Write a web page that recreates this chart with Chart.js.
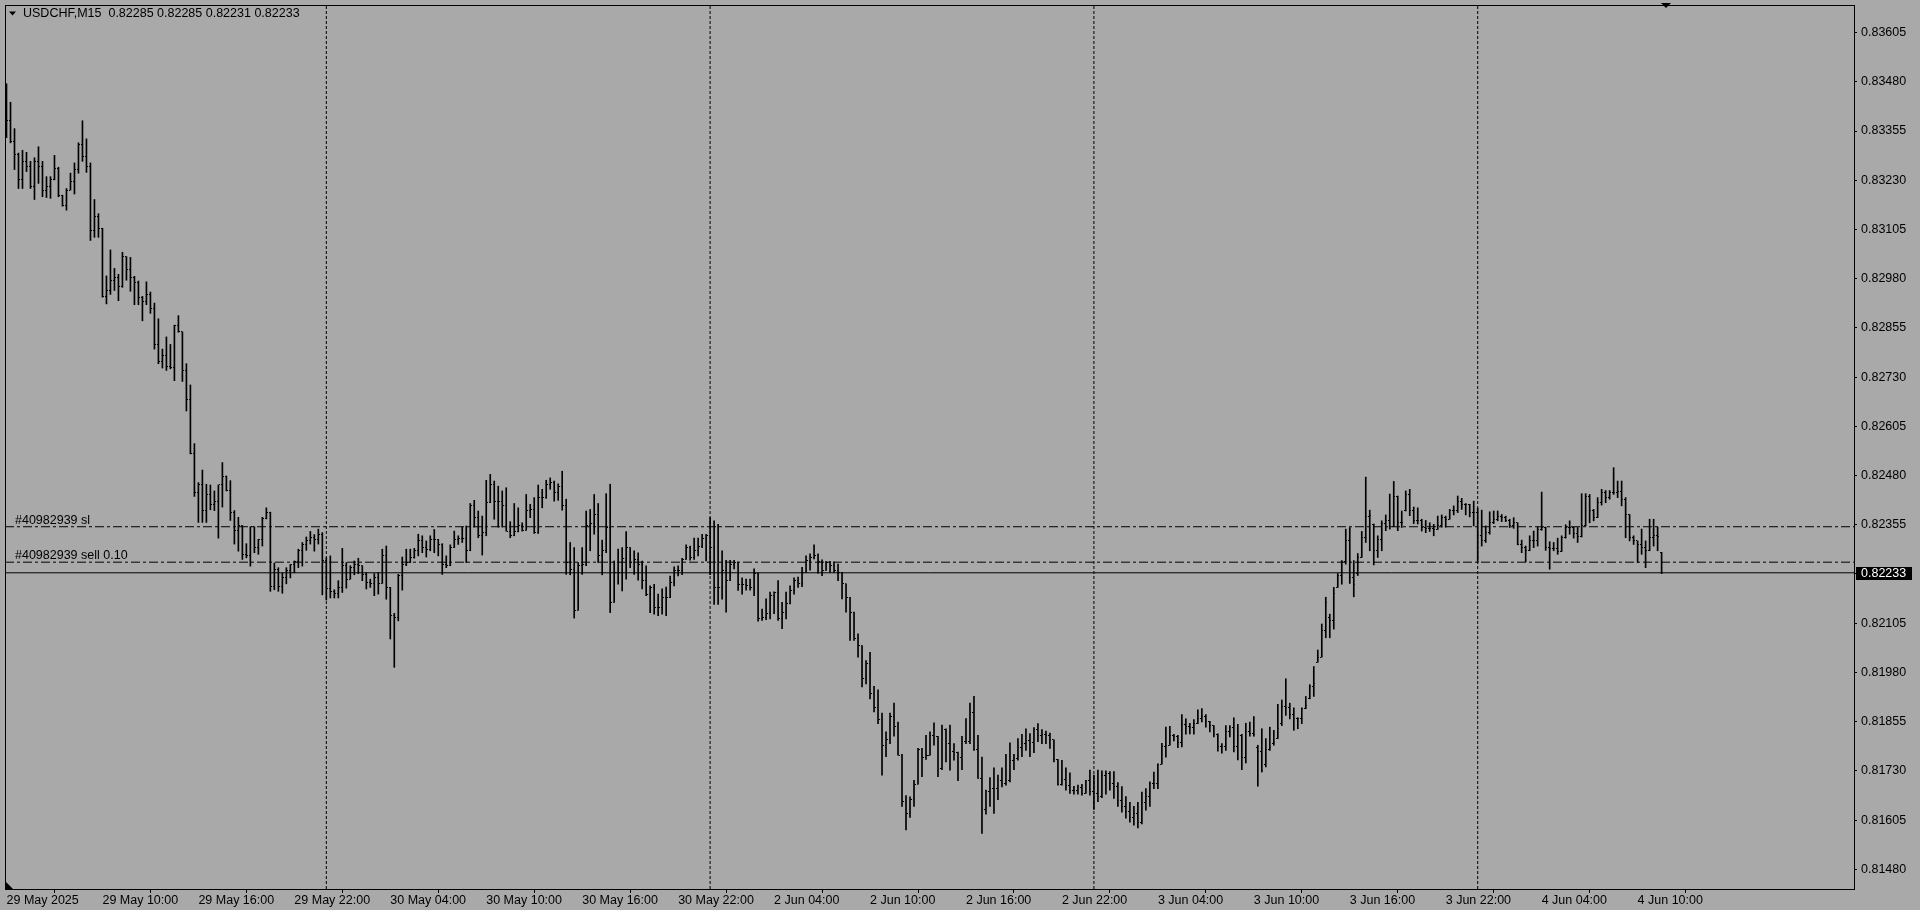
<!DOCTYPE html>
<html>
<head>
<meta charset="utf-8">
<script src="https://cdn.jsdelivr.net/npm/chart.js@4.4.1/dist/chart.umd.min.js"></script>
<style>
html,body{margin:0;padding:0;background:#A9A9A9;overflow:hidden}
canvas{display:block}
</style>
</head>
<body>
<canvas id="c" width="1920" height="910"></canvas>
<script>
const symbol = "USDCHF,M15";
const orderTicket = "#40982939";
const slPrice = 0.82350;
const sellPrice = 0.82260;
const sellLots = "0.10";
const bidPrice = 0.82233;

const xTickBars = [0,24,48,72,96,120,144,168,192,216,240,264,288,312,336,360,384,408];
const xTickLabels = ["29 May 2025","29 May 10:00","29 May 16:00","29 May 22:00","30 May 04:00","30 May 10:00","30 May 16:00","30 May 22:00","2 Jun 04:00","2 Jun 10:00","2 Jun 16:00","2 Jun 22:00","3 Jun 04:00","3 Jun 10:00","3 Jun 16:00","3 Jun 22:00","4 Jun 04:00","4 Jun 10:00"];
const daySeparators = [80,176,272,368];
const yTicks = [0.81480,0.81605,0.81730,0.81855,0.81980,0.82105,0.82230,0.82355,0.82480,0.82605,0.82730,0.82855,0.82980,0.83105,0.83230,0.83355,0.83480,0.83605];

const open = [0.83440,0.83381,0.83329,0.83295,0.83231,0.83278,0.83265,0.83214,0.83278,0.83265,
0.83203,0.83214,0.83233,0.83261,0.83190,0.83167,0.83205,0.83227,0.83257,0.83321,
0.83291,0.83265,0.83102,0.83137,0.83107,0.82935,0.82950,0.82976,0.82982,0.82960,
0.83036,0.83004,0.82984,0.82970,0.82933,0.82922,0.82940,0.82905,0.82813,0.82770,
0.82784,0.82758,0.82755,0.82862,0.82845,0.82747,0.82674,0.82535,0.82438,0.82456,
0.82391,0.82432,0.82407,0.82413,0.82456,0.82477,0.82443,0.82387,0.82340,0.82353,
0.82280,0.82278,0.82350,0.82297,0.82318,0.82370,0.82387,0.82199,0.82241,0.82199,
0.82220,0.82239,0.82253,0.82261,0.82290,0.82306,0.82316,0.82323,0.82318,0.82331,
0.82263,0.82194,0.82186,0.82180,0.82196,0.82251,0.82217,0.82246,0.82255,0.82251,
0.82229,0.82208,0.82206,0.82221,0.82206,0.82276,0.82196,0.82124,0.82120,0.82225,
0.82255,0.82259,0.82272,0.82289,0.82314,0.82297,0.82293,0.82318,0.82318,0.82305,
0.82255,0.82251,0.82297,0.82318,0.82321,0.82321,0.82289,0.82403,0.82373,0.82327,
0.82335,0.82411,0.82458,0.82415,0.82415,0.82403,0.82339,0.82327,0.82339,0.82352,
0.82341,0.82390,0.82394,0.82335,0.82424,0.82424,0.82458,0.82462,0.82436,0.82453,
0.82403,0.82259,0.82242,0.82138,0.82251,0.82255,0.82352,0.82358,0.82381,0.82276,
0.82290,0.82348,0.82158,0.82234,0.82234,0.82270,0.82297,0.82259,0.82267,0.82255,
0.82214,0.82177,0.82196,0.82145,0.82145,0.82170,0.82170,0.82208,0.82238,0.82238,
0.82267,0.82297,0.82272,0.82289,0.82301,0.82321,0.82327,0.82297,0.82196,0.82196,
0.82238,0.82213,0.82255,0.82260,0.82203,0.82203,0.82200,0.82196,0.82230,0.82116,
0.82120,0.82129,0.82175,0.82184,0.82116,0.82133,0.82156,0.82189,0.82213,0.82205,
0.82234,0.82264,0.82272,0.82276,0.82262,0.82239,0.82260,0.82251,0.82240,0.82234,
0.82205,0.82171,0.82133,0.82065,0.82048,0.81964,0.82002,0.81926,0.81892,0.81860,
0.81795,0.81809,0.81867,0.81842,0.81770,0.81651,0.81622,0.81658,0.81696,0.81784,
0.81765,0.81770,0.81820,0.81818,0.81736,0.81835,0.81799,0.81778,0.81776,0.81764,
0.81804,0.81804,0.81877,0.81784,0.81711,0.81632,0.81677,0.81685,0.81685,0.81705,
0.81698,0.81705,0.81757,0.81761,0.81789,0.81799,0.81806,0.81801,0.81835,0.81820,
0.81823,0.81820,0.81809,0.81759,0.81696,0.81708,0.81694,0.81681,0.81681,0.81689,
0.81673,0.81705,0.81677,0.81673,0.81664,0.81719,0.81723,0.81698,0.81690,0.81655,
0.81640,0.81628,0.81612,0.81622,0.81598,0.81650,0.81664,0.81698,0.81699,0.81747,
0.81792,0.81795,0.81820,0.81818,0.81803,0.81848,0.81843,0.81841,0.81850,0.81862,
0.81868,0.81856,0.81845,0.81823,0.81791,0.81792,0.81829,0.81841,0.81792,0.81820,
0.81765,0.81830,0.81824,0.81790,0.81778,0.81745,0.81784,0.81800,0.81812,0.81850,
0.81894,0.81892,0.81873,0.81862,0.81862,0.81888,0.81913,0.81943,0.82006,0.82019,
0.82086,0.82120,0.82113,0.82196,0.82226,0.82262,0.82314,0.82220,0.82230,0.82272,
0.82323,0.82375,0.82355,0.82290,0.82318,0.82357,0.82365,0.82350,0.82428,0.82361,
0.82390,0.82433,0.82390,0.82365,0.82366,0.82348,0.82346,0.82346,0.82344,0.82352,
0.82373,0.82369,0.82390,0.82392,0.82415,0.82407,0.82407,0.82386,0.82386,0.82327,
0.82316,0.82335,0.82360,0.82369,0.82375,0.82373,0.82366,0.82352,0.82360,0.82305,
0.82297,0.82289,0.82314,0.82314,0.82343,0.82349,0.82297,0.82295,0.82295,0.82287,
0.82322,0.82349,0.82349,0.82333,0.82324,0.82352,0.82428,0.82390,0.82373,0.82411,
0.82436,0.82424,0.82436,0.82436,0.82439,0.82420,0.82381,0.82322,0.82314,0.82305,
0.82297,0.82290,0.82322,0.82327,0.82285];

const high = [0.83475,0.83428,0.83361,0.83299,0.83306,0.83301,0.83278,0.83287,0.83315,0.83278,
0.83239,0.83239,0.83293,0.83263,0.83192,0.83209,0.83248,0.83274,0.83325,0.83381,
0.83335,0.83274,0.83181,0.83145,0.83108,0.82987,0.83053,0.83006,0.82991,0.83047,
0.83036,0.83034,0.82986,0.82974,0.82935,0.82972,0.82946,0.82918,0.82878,0.82801,
0.82832,0.82813,0.82862,0.82886,0.82845,0.82764,0.82710,0.82561,0.82462,0.82494,
0.82458,0.82456,0.82441,0.82456,0.82513,0.82479,0.82467,0.82391,0.82374,0.82353,
0.82307,0.82350,0.82350,0.82318,0.82374,0.82398,0.82387,0.82258,0.82246,0.82233,
0.82246,0.82254,0.82263,0.82293,0.82310,0.82324,0.82338,0.82330,0.82344,0.82335,
0.82271,0.82276,0.82190,0.82213,0.82295,0.82259,0.82251,0.82263,0.82270,0.82251,
0.82234,0.82217,0.82231,0.82234,0.82293,0.82301,0.82196,0.82130,0.82229,0.82273,
0.82293,0.82293,0.82295,0.82331,0.82327,0.82314,0.82327,0.82343,0.82318,0.82307,
0.82276,0.82304,0.82339,0.82327,0.82349,0.82352,0.82409,0.82417,0.82390,0.82377,
0.82468,0.82483,0.82466,0.82453,0.82441,0.82449,0.82363,0.82409,0.82398,0.82360,
0.82432,0.82407,0.82424,0.82456,0.82445,0.82468,0.82474,0.82466,0.82459,0.82491,
0.82420,0.82310,0.82297,0.82259,0.82297,0.82390,0.82394,0.82432,0.82409,0.82316,
0.82434,0.82458,0.82263,0.82293,0.82297,0.82338,0.82297,0.82289,0.82284,0.82263,
0.82251,0.82200,0.82204,0.82179,0.82192,0.82197,0.82225,0.82248,0.82251,0.82270,
0.82304,0.82301,0.82321,0.82321,0.82331,0.82331,0.82373,0.82365,0.82356,0.82289,
0.82265,0.82265,0.82265,0.82260,0.82220,0.82217,0.82217,0.82243,0.82232,0.82141,
0.82167,0.82184,0.82185,0.82213,0.82158,0.82184,0.82200,0.82220,0.82222,0.82247,
0.82276,0.82281,0.82304,0.82281,0.82266,0.82262,0.82262,0.82260,0.82255,0.82234,
0.82205,0.82171,0.82133,0.82078,0.82048,0.82010,0.82031,0.81945,0.81936,0.81877,
0.81829,0.81877,0.81902,0.81854,0.81772,0.81667,0.81664,0.81706,0.81787,0.81787,
0.81820,0.81829,0.81852,0.81818,0.81846,0.81837,0.81846,0.81799,0.81778,0.81818,
0.81863,0.81902,0.81919,0.81820,0.81765,0.81681,0.81713,0.81738,0.81719,0.81738,
0.81772,0.81801,0.81772,0.81812,0.81823,0.81837,0.81825,0.81840,0.81850,0.81835,
0.81831,0.81826,0.81809,0.81759,0.81757,0.81738,0.81725,0.81691,0.81694,0.81696,
0.81706,0.81732,0.81719,0.81732,0.81730,0.81730,0.81728,0.81728,0.81700,0.81690,
0.81665,0.81650,0.81640,0.81650,0.81676,0.81685,0.81702,0.81727,0.81748,0.81800,
0.81841,0.81843,0.81823,0.81820,0.81873,0.81862,0.81851,0.81860,0.81885,0.81888,
0.81873,0.81856,0.81845,0.81824,0.81799,0.81845,0.81845,0.81865,0.81848,0.81823,
0.81851,0.81854,0.81868,0.81795,0.81837,0.81812,0.81841,0.81833,0.81899,0.81910,
0.81964,0.81902,0.81890,0.81865,0.81890,0.81919,0.81949,0.81995,0.82037,0.82103,
0.82171,0.82128,0.82196,0.82231,0.82264,0.82344,0.82348,0.82264,0.82282,0.82338,
0.82476,0.82392,0.82357,0.82327,0.82365,0.82380,0.82433,0.82465,0.82428,0.82390,
0.82441,0.82445,0.82400,0.82398,0.82369,0.82366,0.82360,0.82356,0.82377,0.82380,
0.82377,0.82394,0.82403,0.82428,0.82422,0.82409,0.82407,0.82415,0.82397,0.82392,
0.82352,0.82388,0.82390,0.82390,0.82381,0.82377,0.82369,0.82373,0.82360,0.82316,
0.82301,0.82327,0.82339,0.82349,0.82438,0.82349,0.82312,0.82310,0.82321,0.82327,
0.82355,0.82365,0.82349,0.82348,0.82434,0.82434,0.82432,0.82394,0.82424,0.82445,
0.82442,0.82442,0.82500,0.82466,0.82466,0.82424,0.82381,0.82327,0.82314,0.82344,
0.82314,0.82369,0.82369,0.82349,0.82285];

const low = [0.83338,0.83325,0.83257,0.83209,0.83209,0.83252,0.83209,0.83181,0.83222,0.83188,
0.83186,0.83184,0.83231,0.83188,0.83164,0.83154,0.83205,0.83195,0.83248,0.83278,
0.83250,0.83077,0.83085,0.83085,0.82933,0.82916,0.82940,0.82950,0.82924,0.82958,
0.82976,0.82948,0.82914,0.82914,0.82873,0.82914,0.82892,0.82801,0.82764,0.82753,
0.82747,0.82751,0.82721,0.82844,0.82719,0.82644,0.82535,0.82427,0.82361,0.82361,
0.82361,0.82393,0.82391,0.82321,0.82400,0.82441,0.82366,0.82306,0.82288,0.82267,
0.82271,0.82250,0.82284,0.82280,0.82301,0.82370,0.82186,0.82190,0.82186,0.82181,
0.82205,0.82220,0.82233,0.82246,0.82250,0.82290,0.82306,0.82288,0.82306,0.82177,
0.82164,0.82169,0.82169,0.82169,0.82183,0.82194,0.82217,0.82228,0.82231,0.82213,
0.82192,0.82196,0.82175,0.82179,0.82206,0.82166,0.82065,0.81993,0.82111,0.82189,
0.82251,0.82259,0.82270,0.82276,0.82284,0.82273,0.82289,0.82284,0.82276,0.82229,
0.82246,0.82251,0.82297,0.82305,0.82310,0.82259,0.82289,0.82349,0.82322,0.82278,
0.82327,0.82411,0.82369,0.82349,0.82349,0.82339,0.82322,0.82327,0.82337,0.82339,
0.82341,0.82373,0.82333,0.82333,0.82398,0.82422,0.82445,0.82415,0.82417,0.82392,
0.82229,0.82228,0.82118,0.82138,0.82229,0.82251,0.82289,0.82331,0.82259,0.82228,
0.82284,0.82132,0.82158,0.82204,0.82187,0.82217,0.82246,0.82229,0.82214,0.82192,
0.82175,0.82132,0.82128,0.82124,0.82128,0.82124,0.82170,0.82200,0.82225,0.82228,
0.82267,0.82265,0.82267,0.82276,0.82297,0.82263,0.82228,0.82153,0.82153,0.82166,
0.82133,0.82213,0.82243,0.82188,0.82179,0.82189,0.82189,0.82175,0.82110,0.82112,
0.82114,0.82116,0.82129,0.82112,0.82091,0.82116,0.82154,0.82179,0.82196,0.82198,
0.82234,0.82240,0.82268,0.82232,0.82226,0.82239,0.82234,0.82234,0.82213,0.82167,
0.82133,0.82061,0.82061,0.82019,0.81943,0.81951,0.81913,0.81880,0.81850,0.81719,
0.81766,0.81799,0.81818,0.81770,0.81640,0.81580,0.81612,0.81640,0.81696,0.81715,
0.81759,0.81770,0.81795,0.81715,0.81733,0.81753,0.81732,0.81757,0.81705,0.81733,
0.81799,0.81799,0.81782,0.81711,0.81571,0.81620,0.81640,0.81622,0.81657,0.81689,
0.81694,0.81702,0.81733,0.81757,0.81766,0.81782,0.81766,0.81776,0.81804,0.81799,
0.81799,0.81787,0.81753,0.81694,0.81694,0.81681,0.81673,0.81671,0.81671,0.81668,
0.81673,0.81668,0.81632,0.81652,0.81662,0.81671,0.81681,0.81660,0.81640,0.81625,
0.81610,0.81600,0.81592,0.81585,0.81595,0.81630,0.81640,0.81685,0.81685,0.81747,
0.81765,0.81795,0.81806,0.81789,0.81791,0.81823,0.81824,0.81823,0.81850,0.81854,
0.81841,0.81829,0.81816,0.81780,0.81775,0.81782,0.81816,0.81778,0.81758,0.81733,
0.81750,0.81818,0.81818,0.81691,0.81727,0.81740,0.81782,0.81795,0.81812,0.81845,
0.81871,0.81862,0.81833,0.81837,0.81850,0.81888,0.81913,0.81919,0.82006,0.82019,
0.82068,0.82068,0.82090,0.82196,0.82204,0.82255,0.82206,0.82172,0.82226,0.82272,
0.82310,0.82289,0.82253,0.82272,0.82289,0.82340,0.82344,0.82350,0.82340,0.82348,
0.82390,0.82378,0.82358,0.82357,0.82339,0.82335,0.82338,0.82327,0.82343,0.82349,
0.82349,0.82369,0.82380,0.82386,0.82394,0.82380,0.82375,0.82352,0.82259,0.82301,
0.82310,0.82331,0.82358,0.82365,0.82363,0.82363,0.82348,0.82346,0.82304,0.82284,
0.82261,0.82289,0.82297,0.82301,0.82341,0.82290,0.82242,0.82289,0.82280,0.82287,
0.82321,0.82331,0.82321,0.82310,0.82324,0.82352,0.82360,0.82365,0.82373,0.82405,
0.82411,0.82420,0.82432,0.82424,0.82403,0.82322,0.82314,0.82305,0.82259,0.82280,
0.82246,0.82289,0.82301,0.82289,0.82231];

const close = [0.83381,0.83329,0.83295,0.83231,0.83278,0.83265,0.83214,0.83278,0.83265,0.83203,
0.83214,0.83233,0.83261,0.83190,0.83167,0.83205,0.83227,0.83257,0.83321,0.83291,
0.83265,0.83102,0.83137,0.83107,0.82935,0.82950,0.82976,0.82982,0.82960,0.83036,
0.83004,0.82984,0.82970,0.82933,0.82922,0.82940,0.82905,0.82813,0.82770,0.82784,
0.82758,0.82755,0.82862,0.82845,0.82747,0.82674,0.82535,0.82438,0.82456,0.82391,
0.82432,0.82407,0.82413,0.82456,0.82477,0.82443,0.82387,0.82340,0.82353,0.82280,
0.82278,0.82350,0.82297,0.82318,0.82370,0.82387,0.82199,0.82241,0.82199,0.82220,
0.82239,0.82253,0.82261,0.82290,0.82306,0.82316,0.82323,0.82318,0.82331,0.82263,
0.82194,0.82186,0.82180,0.82196,0.82251,0.82217,0.82246,0.82255,0.82251,0.82229,
0.82208,0.82206,0.82221,0.82206,0.82276,0.82196,0.82124,0.82120,0.82225,0.82255,
0.82259,0.82272,0.82289,0.82314,0.82297,0.82293,0.82318,0.82318,0.82305,0.82255,
0.82251,0.82297,0.82318,0.82321,0.82321,0.82289,0.82403,0.82373,0.82327,0.82335,
0.82411,0.82458,0.82415,0.82415,0.82403,0.82339,0.82327,0.82339,0.82352,0.82341,
0.82390,0.82394,0.82335,0.82424,0.82424,0.82458,0.82462,0.82436,0.82453,0.82403,
0.82259,0.82242,0.82138,0.82251,0.82255,0.82352,0.82358,0.82381,0.82276,0.82290,
0.82348,0.82158,0.82234,0.82234,0.82270,0.82297,0.82259,0.82267,0.82255,0.82214,
0.82177,0.82196,0.82145,0.82145,0.82170,0.82170,0.82208,0.82238,0.82238,0.82267,
0.82297,0.82272,0.82289,0.82301,0.82321,0.82327,0.82297,0.82196,0.82196,0.82238,
0.82213,0.82255,0.82260,0.82203,0.82203,0.82200,0.82196,0.82230,0.82116,0.82120,
0.82129,0.82175,0.82184,0.82116,0.82133,0.82156,0.82189,0.82213,0.82205,0.82234,
0.82264,0.82272,0.82276,0.82262,0.82239,0.82260,0.82251,0.82240,0.82234,0.82205,
0.82171,0.82133,0.82065,0.82048,0.81964,0.82002,0.81926,0.81892,0.81860,0.81795,
0.81809,0.81867,0.81842,0.81770,0.81651,0.81622,0.81658,0.81696,0.81784,0.81765,
0.81770,0.81820,0.81818,0.81736,0.81835,0.81799,0.81778,0.81776,0.81764,0.81804,
0.81804,0.81877,0.81784,0.81711,0.81632,0.81677,0.81685,0.81685,0.81705,0.81698,
0.81705,0.81757,0.81761,0.81789,0.81799,0.81806,0.81801,0.81835,0.81820,0.81823,
0.81820,0.81809,0.81759,0.81696,0.81708,0.81694,0.81681,0.81681,0.81689,0.81673,
0.81705,0.81677,0.81673,0.81664,0.81719,0.81723,0.81698,0.81690,0.81655,0.81640,
0.81628,0.81612,0.81622,0.81598,0.81650,0.81664,0.81698,0.81699,0.81747,0.81792,
0.81795,0.81820,0.81818,0.81803,0.81848,0.81843,0.81841,0.81850,0.81862,0.81868,
0.81856,0.81845,0.81823,0.81791,0.81792,0.81829,0.81841,0.81792,0.81820,0.81765,
0.81830,0.81824,0.81823,0.81778,0.81731,0.81784,0.81789,0.81801,0.81837,0.81894,
0.81892,0.81873,0.81862,0.81862,0.81888,0.81896,0.81943,0.81951,0.82019,0.82086,
0.82158,0.82113,0.82180,0.82226,0.82262,0.82314,0.82220,0.82204,0.82272,0.82323,
0.82375,0.82378,0.82290,0.82318,0.82357,0.82365,0.82350,0.82428,0.82361,0.82361,
0.82433,0.82390,0.82365,0.82366,0.82348,0.82346,0.82346,0.82344,0.82352,0.82373,
0.82369,0.82390,0.82392,0.82415,0.82407,0.82407,0.82386,0.82386,0.82327,0.82316,
0.82335,0.82360,0.82369,0.82375,0.82373,0.82366,0.82352,0.82360,0.82305,0.82297,
0.82289,0.82314,0.82314,0.82343,0.82349,0.82297,0.82295,0.82295,0.82287,0.82322,
0.82349,0.82349,0.82333,0.82324,0.82352,0.82428,0.82390,0.82373,0.82411,0.82436,
0.82424,0.82436,0.82436,0.82439,0.82420,0.82381,0.82322,0.82314,0.82305,0.82297,
0.82290,0.82322,0.82327,0.82324,0.82233];

/* ---------- chart construction ---------- */
const BG = '#A9A9A9';
const FONT = "'Liberation Sans', Arial, sans-serif";
const FONT_SIZE = 12.5;
Chart.defaults.font.family = FONT;
Chart.defaults.font.size = FONT_SIZE;
Chart.defaults.color = '#000';

const xMin = -0.375, xMax = 462.125;
const yMin = 0.81430, yMax = 0.83675;

function tickImage(side) {
  const c = document.createElement('canvas');
  c.width = 3; c.height = 1;
  const g = c.getContext('2d');
  g.fillStyle = '#000';
  g.fillRect(side === 'left' ? 0 : 2, 0, 1, 1);
  return c;
}

const barData = high.map((h, i) => ({x: i, y: [low[i], h]}));
const openData = open.map((v, i) => ({x: i, y: v}));
const closeData = close.map((v, i) => ({x: i, y: v}));

const datasets = [];
daySeparators.forEach(d => {
  datasets.push({type: 'line', data: [{x: d, y: yMin}, {x: d, y: yMax}], borderColor: '#000', borderWidth: 1,
    borderDash: [3, 2], pointRadius: 0, fill: false, order: 10});
});
[slPrice, sellPrice].forEach(p => {
  datasets.push({type: 'line', data: [{x: xMin, y: p}, {x: xMax, y: p}], borderColor: '#000', borderWidth: 1,
    borderDash: [9, 3, 3, 3], pointRadius: 0, fill: false, order: 9});
});
datasets.push({type: 'line', data: [{x: xMin, y: bidPrice}, {x: xMax, y: bidPrice}], borderColor: '#000', borderWidth: 1,
  pointRadius: 0, fill: false, order: 8});
datasets.push({type: 'bar', data: barData, backgroundColor: '#000', borderWidth: 0, barThickness: 1, grouped: false, order: 3});
datasets.push({type: 'line', data: openData, showLine: false, pointStyle: tickImage('left'), pointRadius: 1, order: 2});
datasets.push({type: 'line', data: closeData, showLine: false, pointStyle: tickImage('right'), pointRadius: 1, order: 1});

const decorPlugin = {
  id: 'decor',
  beforeDraw(chart) {
    const ctx = chart.ctx;
    ctx.save();
    ctx.fillStyle = BG;
    ctx.fillRect(0, 0, chart.width, chart.height);
    ctx.restore();
  },
  afterDraw(chart) {
    const ctx = chart.ctx;
    const a = chart.chartArea;
    const ys = chart.scales.y;
    ctx.save();
    ctx.strokeStyle = '#000';
    ctx.lineWidth = 1;
    ctx.strokeRect(Math.round(a.left) + 0.5, Math.round(a.top) + 0.5, Math.round(a.right - a.left), Math.round(a.bottom - a.top));
    ctx.fillStyle = '#000';
    ctx.font = FONT_SIZE + 'px ' + FONT;
    ctx.textBaseline = 'middle';
    ctx.textAlign = 'left';
    const n = close.length - 1;
    ctx.beginPath();
    ctx.moveTo(9, 11.5); ctx.lineTo(16, 11.5); ctx.lineTo(12.5, 15.5); ctx.closePath(); ctx.fill();
    ctx.fillText(symbol + '  ' + open[n].toFixed(5) + ' ' + high[n].toFixed(5) + ' ' + low[n].toFixed(5) + ' ' + close[n].toFixed(5), 23, 13.5);
    ctx.fillText(orderTicket + ' sl', a.left + 10, ys.getPixelForValue(slPrice) - 6.5);
    ctx.fillText(orderTicket + ' sell ' + sellLots, a.left + 10, ys.getPixelForValue(sellPrice) - 6.5);
    const py = ys.getPixelForValue(bidPrice);
    ctx.fillRect(a.right + 2, Math.round(py) - 6, 56, 13);
    ctx.fillStyle = '#fff';
    ctx.fillText(bidPrice.toFixed(5), a.right + 7, Math.round(py) + 0.5);
    ctx.fillStyle = '#000';
    ctx.beginPath();
    ctx.moveTo(1661, 3); ctx.lineTo(1671, 3); ctx.lineTo(1666, 8); ctx.closePath(); ctx.fill();
    ctx.beginPath();
    ctx.moveTo(a.left + 1, a.bottom - 7); ctx.lineTo(a.left + 1, a.bottom); ctx.lineTo(a.left + 8, a.bottom); ctx.closePath(); ctx.fill();
    ctx.restore();
  }
};

new Chart(document.getElementById('c'), {
  type: 'bar',
  data: {datasets},
  options: {
    responsive: false,
    animation: false,
    devicePixelRatio: 1,
    events: [],
    layout: {padding: {left: 4, top: 3, right: 0, bottom: 0}},
    plugins: {legend: {display: false}, tooltip: {enabled: false}},
    scales: {
      x: {
        type: 'linear', min: xMin, max: xMax, offset: false,
        afterBuildTicks: s => { s.ticks = xTickBars.map(v => ({value: v})); },
        ticks: {autoSkip: false, maxRotation: 0, minRotation: 0, align: 'start', padding: 0, color: '#000',
          callback: (v, i) => xTickLabels[i]},
        grid: {drawOnChartArea: false, drawTicks: true, tickLength: 4, color: '#000'},
        border: {display: false},
        afterFit: s => { s.height = 21; s.paddingLeft = 0; s.paddingRight = 0; s.paddingTop = 0; s.paddingBottom = 0; }
      },
      y: {
        type: 'linear', position: 'right', min: yMin, max: yMax,
        afterBuildTicks: s => { s.ticks = yTicks.map(v => ({value: v})); },
        ticks: {autoSkip: false, padding: 4, color: '#000', callback: v => v.toFixed(5)},
        grid: {drawOnChartArea: false, drawTicks: true, tickLength: 3, color: '#000'},
        border: {display: false},
        afterFit: s => { s.width = 66; s.paddingLeft = 0; s.paddingRight = 0; s.paddingTop = 0; s.paddingBottom = 0; }
      }
    }
  },
  plugins: [decorPlugin]
});
</script>
</body>
</html>
